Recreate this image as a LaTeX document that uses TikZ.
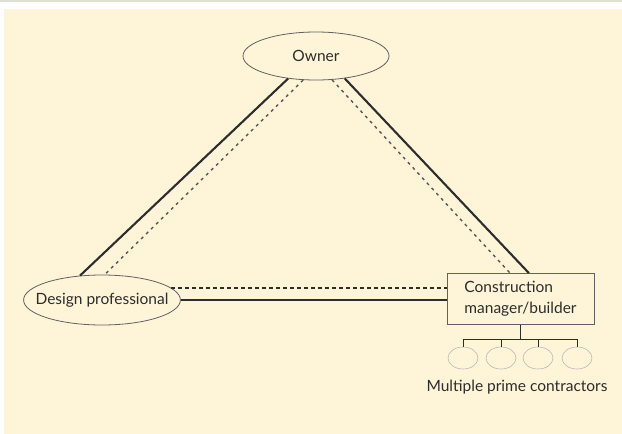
\documentclass[tikz,border=0pt]{standalone}
\usepackage{fontspec}
\setmainfont{Lato}
\usetikzlibrary{shapes.geometric}
\definecolor{cream}{RGB}{254,244,216}
\definecolor{ink}{RGB}{45,45,45}
\definecolor{rule}{RGB}{222,226,214}
\begin{document}
\begin{tikzpicture}[x=1pt,y=-1pt,font=\fontsize{15.5}{21}\selectfont,text=ink,
  party/.style={ellipse,draw=ink!75,line width=0.8pt,fill=cream,inner sep=0pt},
  box/.style={draw=ink!75,line width=0.8pt,fill=cream,align=left,minimum width=147,minimum height=51,inner sep=0pt},
  sub/.style={ellipse,draw=gray!55,line width=0.6pt,minimum width=30,minimum height=22,inner sep=0pt},
  contract/.style={draw=ink,line width=2.1pt},
  info/.style={draw=ink!80,line width=1.4pt,dash pattern=on 3pt off 4pt}]
\useasboundingbox (0,0) rectangle (622,434);
\fill[cream] (4,9) rectangle (622,434);
\draw[rule,line width=1.5pt] (0,0.75) -- (622,0.75);
\node[party,minimum width=146,minimum height=48] (owner) at (316,56) {Owner};
\node[party,inner xsep=-11pt,minimum width=148,minimum height=50] (design) at (102,300) {Design professional};
\node[box] (cm) at (520.5,299) {Construction\\manager/builder};
\node[sub] (c1) at (463,358) {};
\node[sub] (c2) at (501,358) {};
\node[sub] (c3) at (538,358) {};
\node[sub] (c4) at (577,358) {};
\node (mpc) at (517,387) {Multiple prime contractors};
% contract links
\draw[contract] (owner.219) -- (design.132);
\draw[contract] (owner.322) -- (cm.72);
\draw[contract] (design.east) -- (design.east -| cm.west);
% communication links
\draw[info] (owner.242) -- (design.84);
\draw[info] (owner.304) -- (cm.112);
\draw[info,draw=ink,line width=1.5pt,dash pattern=on 3.5pt off 3.5pt] (design.10) -- (design.10 -| cm.west);
% builder to its prime contractors
\draw[ink,line width=1pt] (cm.south) -- ++(0,15) coordinate (split);
\foreach \i in {1,...,4}
  \draw[ink,line width=1pt] (c\i.north) |- (split);
\end{tikzpicture}
\end{document}
